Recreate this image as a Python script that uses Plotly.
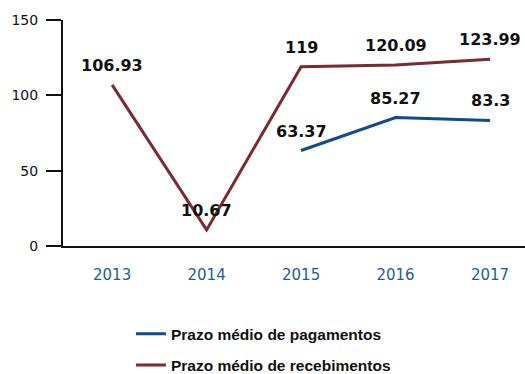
import plotly.graph_objects as go

# Prazos médios (dias) por ano
anos = ["2013", "2014", "2015", "2016", "2017"]
pagamentos = [None, None, 63.37, 85.27, 83.3]
recebimentos = [106.93, 10.67, 119, 120.09, 123.99]
y_ticks = [0, 50, 100, 150]

cor_pag = "#0f4c8a"
cor_rec = "#7b2b30"

fig = go.Figure()
fig.add_trace(go.Scatter(
    x=anos, y=pagamentos, mode="lines", name="Prazo médio de pagamentos",
    line=dict(color=cor_pag, width=3), legendgroup="pag",
))
fig.add_trace(go.Scatter(
    x=anos, y=recebimentos, mode="lines", name="Prazo médio de recebimentos",
    line=dict(color=cor_rec, width=3), legendgroup="rec",
))

# Rótulos de valor acima de cada ponto (posição da categoria pelo índice)
for serie in (pagamentos, recebimentos):
    for i, v in enumerate(serie):
        if v is None:
            continue
        fig.add_annotation(
            x=i, y=v, xref="x", yref="y", text=f"{v:g}", showarrow=False,
            yanchor="bottom", xanchor="center", yshift=8,
            font=dict(family="DejaVu Sans", size=16, color="#111111", weight="bold"),
        )

fig.update_layout(
    width=525, height=374,
    margin=dict(l=63, r=0, t=20, b=128, autoexpand=False),
    paper_bgcolor="white", plot_bgcolor="white",
    showlegend=True,
    legend=dict(
        x=0.147, y=-0.315, xanchor="left", yanchor="top",
        orientation="v", tracegroupgap=8,
        font=dict(family="Liberation Sans", size=15.5, color="#111111", weight="bold"),
    ),
)
fig.update_xaxes(
    type="category", range=[-0.52, 4.37],
    showgrid=False, showline=True, linecolor="#111111", linewidth=2,
    ticks="", ticklabelstandoff=14,
    tickfont=dict(family="DejaVu Sans", size=15, color="#1f5c99"),
    zeroline=False,
)
fig.update_yaxes(
    range=[0, 150], tickvals=y_ticks,
    showgrid=False, showline=True, linecolor="#111111", linewidth=2,
    ticks="outside", ticklen=15, tickwidth=2, tickcolor="#111111",
    ticklabelstandoff=5,
    tickfont=dict(family="DejaVu Sans", size=14, color="#111111"),
    zeroline=False,
)

fig.write_html("out.html")
